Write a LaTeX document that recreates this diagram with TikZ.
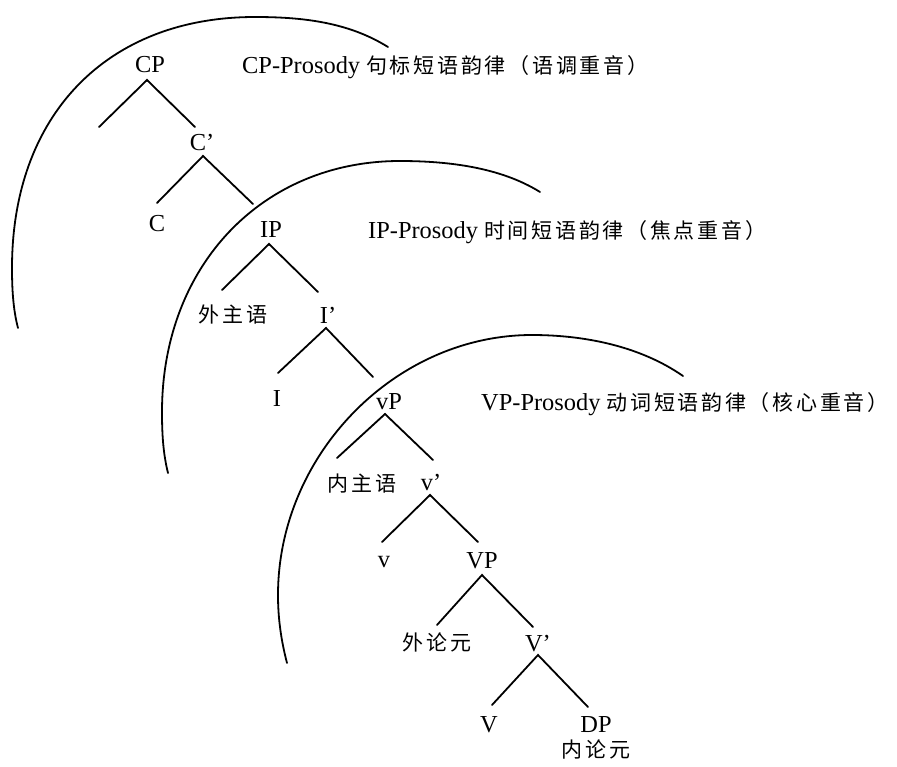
\documentclass[tikz,border=0pt]{standalone}
\usepackage{fontspec}
\setmainfont{Liberation Serif}
\newfontfamily\cjkfont{Noto Sans CJK SC}[LetterSpace=13]
\newcommand{\zh}[1]{{\cjkfont\fontsize{21}{25}\selectfont #1}}
\usetikzlibrary{calc}
\begin{document}
\begin{tikzpicture}[x=1pt,y=-1pt,
  lbl/.style={inner sep=0pt, anchor=base, font=\fontsize{24.4}{29}\selectfont},
  prosody/.style={lbl, anchor=base west},
  branch/.style={line width=1.8pt, line cap=round},
  ring/.style={line width=1.8pt, line cap=round}]
\useasboundingbox (0,0) rectangle (897,766);

% tree nodes
\node[lbl] (CP)  at (150,72)  {CP};
\node[lbl] (Cb)  at (202,150) {C’};
\node[lbl] (C)   at (157,231) {C};
\node[lbl] (IP)  at (271,237) {IP};
\node[lbl] (wzy) at (233,322) {\zh{外主语}};
\node[lbl] (Ib)  at (328,323) {I’};
\node[lbl] (I)   at (277,406) {I};
\node[lbl] (vP)  at (389,409) {vP};
\node[lbl] (nzy) at (362,491) {\zh{内主语}};
\node[lbl] (vb)  at (431,490) {v’};
\node[lbl] (v)   at (384,567) {v};
\node[lbl] (VP)  at (482,568) {VP};
\node[lbl] (wly) at (437,650) {\zh{外论元}};
\node[lbl] (Vb)  at (538,651) {V’};
\node[lbl] (V)   at (489,732) {V};
\node[lbl] (DP)  at (596,732) {DP};
\node[lbl] (nly) at (596,757) {\zh{内论元}};

% prosody labels
\node[prosody] (cpl) at (242,73)  {CP-Prosody \zh{句标短语韵律（语调重音）}};
\node[prosody] (ipl) at (368,238) {IP-Prosody \zh{时间短语韵律（焦点重音）}};
\node[prosody] (vpl) at (481,410) {VP-Prosody \zh{动词短语韵律（核心重音）}};

% empty specifier end of CP
\coordinate (CPl) at (99,127);

% branches
\draw[branch] (CPl) -- ($(CP.base)+(-3,8)$) -- ($(Cb.base)+(-7,-23)$);
\draw[branch] ($(C.base)+(0,-28)$) -- ($(Cb.base)+(1,6)$) -- ($(IP.base)+(-18,-33)$);
\draw[branch] ($(wzy.base)+(-11,-32)$) -- ($(IP.base)+(-2,7)$) -- ($(Ib.base)+(-10,-31)$);
\draw[branch] ($(I.base)+(1,-33)$) -- ($(Ib.base)+(-2,5)$) -- ($(vP.base)+(-16,-32)$);
\draw[branch] ($(nzy.base)+(-25,-33)$) -- ($(vP.base)+(-4,5)$) -- ($(vb.base)+(2,-30)$);
\draw[branch] ($(v.base)+(-2,-25)$) -- ($(vb.base)+(-1,5)$) -- ($(VP.base)+(-4,-26)$);
\draw[branch] ($(wly.base)+(0,-25)$) -- ($(VP.base)+(0,7)$) -- ($(Vb.base)+(-5,-24)$);
\draw[branch] ($(V.base)+(3,-27)$) -- ($(Vb.base)+(0,4)$) -- ($(DP.base)+(-8,-25)$);

% prosodic domains
\draw[ring] (18,328) .. controls (13,309) and (12,288) .. (12,268)
  .. controls (12,115) and (107,17) .. (255,17)
  .. controls (302,17) and (348,22) .. (388,47);
\draw[ring] (168,473) .. controls (163,453) and (162,433) .. (162,412)
  .. controls (162,266) and (262,161) .. (400,161)
  .. controls (447,161) and (500,167) .. (540,192);
\draw[ring] (287,663) .. controls (281,640) and (278,618) .. (278,595)
  .. controls (278,455) and (395,335) .. (532,335)
  .. controls (584,335) and (640,346) .. (683,376);
\end{tikzpicture}
\end{document}
